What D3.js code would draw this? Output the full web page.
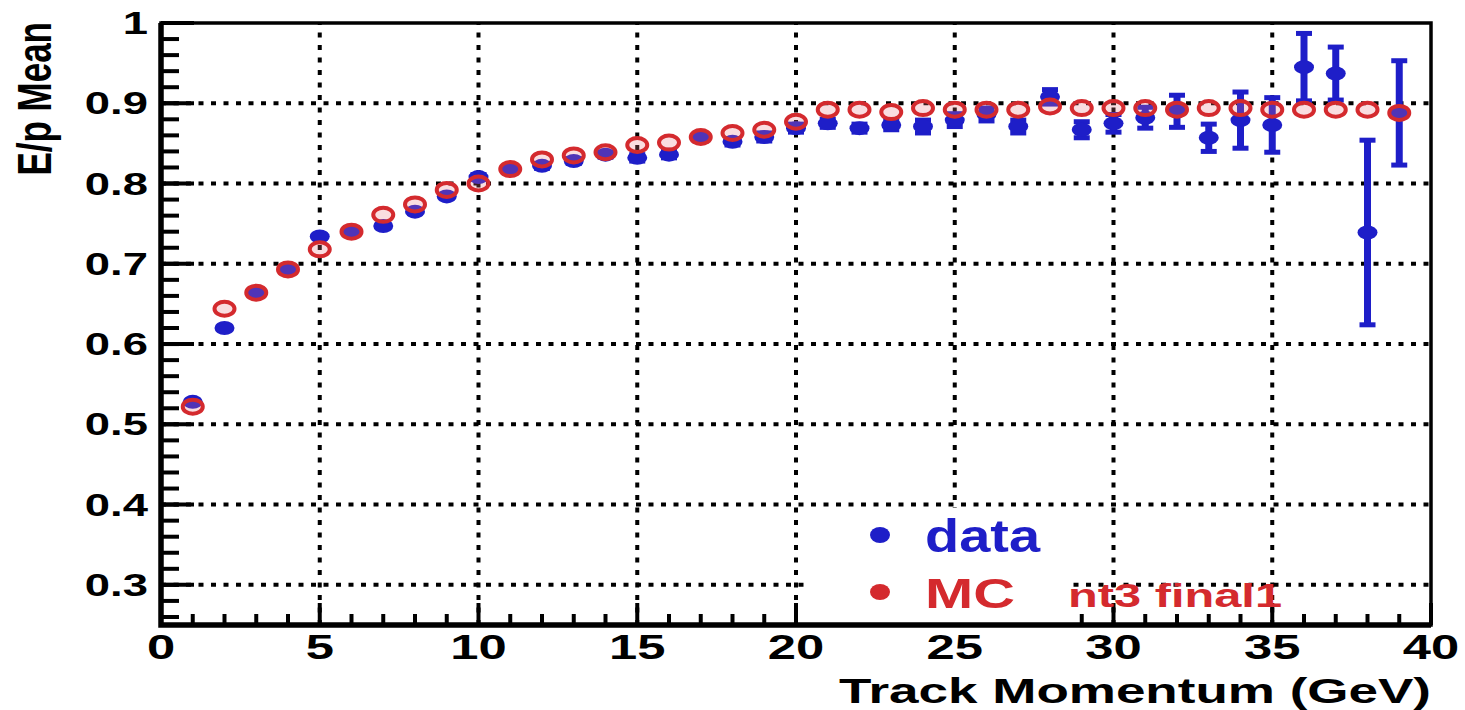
<!DOCTYPE html>
<html>
<head>
<meta charset="utf-8">
<script src="https://cdn.jsdelivr.net/npm/d3@7"></script>
<style>
  body { margin: 0; background: #fff; }
  text { font-family: "Liberation Sans", Arial, sans-serif; font-weight: bold; }
</style>
</head>
<body>
<script>
// E/p mean vs track momentum, data vs MC

var momentum = d3.range(1, 40);
var dataMean = [0.528, 0.620, 0.664, 0.693, 0.734, 0.740, 0.747, 0.765, 0.784, 0.808,
                0.818, 0.822, 0.828, 0.836, 0.832, 0.836, 0.857, 0.852, 0.858, 0.869,
                0.875, 0.869, 0.873, 0.871, 0.879, 0.886, 0.871, 0.908, 0.867, 0.875,
                0.882, 0.890, 0.857, 0.879, 0.873, 0.945, 0.937, 0.739, 0.888];
var dataErr = [0.002, 0.002, 0.002, 0.002, 0.002, 0.002, 0.002, 0.002, 0.002, 0.003,
               0.003, 0.003, 0.003, 0.003, 0.004, 0.004, 0.004, 0.004, 0.005, 0.005,
               0.005, 0.005, 0.006, 0.008, 0.008, 0.008, 0.008, 0.009, 0.010, 0.011,
               0.013, 0.020, 0.017, 0.035, 0.034, 0.042, 0.033, 0.115, 0.065];
var mcMean = [0.522, 0.644, 0.664, 0.693, 0.718, 0.740, 0.761, 0.774, 0.792, 0.800,
              0.818, 0.830, 0.835, 0.839, 0.848, 0.851, 0.858, 0.863, 0.867, 0.877,
              0.892, 0.892, 0.889, 0.894, 0.892, 0.892, 0.892, 0.896, 0.894, 0.894,
              0.894, 0.892, 0.894, 0.894, 0.892, 0.892, 0.892, 0.892, 0.888];

var xTicks = [0, 5, 10, 15, 20, 25, 30, 35, 40];
var yTicks = [0.3, 0.4, 0.5, 0.6, 0.7, 0.8, 0.9, 1];
var legendNames = ["data", "MC"];

var blue = "#1e1ec8", red = "#d42a2e";
var width = 1465, height = 710;
var pL = 161, pR = 1431, pT = 23, pB = 625;

var x = d3.scaleLinear().domain([0, 40]).range([pL, pR]);
var y = d3.scaleLinear().domain([0.25, 1]).range([pB, pT]);

var svg = d3.select("body").append("svg")
    .attr("width", width)
    .attr("height", height);

svg.append("rect").attr("width", width).attr("height", height).attr("fill", "#fff");

// dotted grid
var grid = svg.append("g").attr("stroke", "#000").attr("stroke-width", 4).attr("stroke-dasharray", "5,7.5");
grid.selectAll(".gx").data(xTicks.slice(1, -1)).enter().append("line")
    .attr("x1", function(d) { return x(d); }).attr("x2", function(d) { return x(d); })
    .attr("y1", pB).attr("y2", pT);
grid.selectAll(".gy").data(yTicks.slice(0, -1)).enter().append("line")
    .attr("x1", pL).attr("x2", pR)
    .attr("y1", function(d) { return y(d); }).attr("y2", function(d) { return y(d); });

// ticks
var ticks = svg.append("g").attr("stroke", "#000");
ticks.selectAll(".mx").data(d3.range(0, 41)).enter().append("line")
    .attr("x1", function(d) { return x(d); }).attr("x2", function(d) { return x(d); })
    .attr("y1", pB).attr("y2", function(d) { return d % 5 == 0 ? pB - 22 : pB - 11; })
    .attr("stroke-width", 4);
ticks.selectAll(".my").data(d3.range(0, 38)).enter().append("line")
    .attr("y1", function(d) { return y(0.25 + 0.01 + d * 0.02); })
    .attr("y2", function(d) { return y(0.25 + 0.01 + d * 0.02); })
    .attr("x1", pL).attr("x2", pL + 18)
    .attr("stroke-width", 4);
ticks.selectAll(".My").data(yTicks).enter().append("line")
    .attr("y1", function(d) { return y(d); }).attr("y2", function(d) { return y(d); })
    .attr("x1", pL).attr("x2", pL + 33)
    .attr("stroke-width", 4);

// legend box hides grid and ticks under it
svg.append("rect").attr("x", 806).attr("y", 508).attr("width", 260).attr("height", 115).attr("fill", "#fff");

// frame
svg.append("rect").attr("x", pL).attr("y", pT).attr("width", pR - pL).attr("height", pB - pT)
    .attr("fill", "none").attr("stroke", "#000").attr("stroke-width", 3.5);
svg.append("path").attr("d", "M" + pL + "," + pT + "V" + pB + "H" + pR)
    .attr("fill", "none").attr("stroke", "#000").attr("stroke-width", 5.5);

// tick labels
svg.selectAll(".xl").data(xTicks).enter().append("text")
    .attr("transform", function(d) { return "translate(" + x(d) + ",659) scale(1.45,1)"; })
    .attr("text-anchor", "middle").attr("font-size", 35)
    .text(function(d) { return d; });
svg.selectAll(".yl").data(yTicks).enter().append("text")
    .attr("transform", function(d) { return "translate(148," + (y(d) + 11) + ") scale(1.42,1)"; })
    .attr("text-anchor", "end").attr("font-size", 32)
    .text(function(d) { return d; });

// axis titles
svg.append("text")
    .attr("x", 1431).attr("y", 703).attr("text-anchor", "end").attr("font-size", 35)
    .attr("textLength", 592).attr("lengthAdjust", "spacingAndGlyphs")
    .text("Track Momentum (GeV)");
svg.append("text")
    .attr("transform", "translate(51,22) scale(1.4,1) rotate(-90)")
    .attr("text-anchor", "end").attr("font-size", 35)
    .text("E/p Mean");

// data error bars
var err = svg.append("g").attr("stroke", blue);
err.selectAll(".eb").data(momentum).enter().append("line")
    .attr("x1", function(d) { return x(d); }).attr("x2", function(d) { return x(d); })
    .attr("y1", function(d, i) { return y(dataMean[i] - dataErr[i]); })
    .attr("y2", function(d, i) { return y(dataMean[i] + dataErr[i]); })
    .attr("stroke-width", 7);
err.selectAll(".c1").data(momentum).enter().append("line")
    .attr("x1", function(d) { return x(d) - 8; }).attr("x2", function(d) { return x(d) + 8; })
    .attr("y1", function(d, i) { return y(dataMean[i] - dataErr[i]); })
    .attr("y2", function(d, i) { return y(dataMean[i] - dataErr[i]); })
    .attr("stroke-width", 5);
err.selectAll(".c2").data(momentum).enter().append("line")
    .attr("x1", function(d) { return x(d) - 8; }).attr("x2", function(d) { return x(d) + 8; })
    .attr("y1", function(d, i) { return y(dataMean[i] + dataErr[i]); })
    .attr("y2", function(d, i) { return y(dataMean[i] + dataErr[i]); })
    .attr("stroke-width", 5);

svg.append("g").selectAll("ellipse").data(momentum).enter().append("ellipse")
    .attr("cx", function(d) { return x(d); })
    .attr("cy", function(d, i) { return y(dataMean[i]); })
    .attr("rx", 10).attr("ry", 7)
    .attr("fill", blue);

// MC open markers
svg.append("g").selectAll("ellipse").data(momentum).enter().append("ellipse")
    .attr("cx", function(d) { return x(d); })
    .attr("cy", function(d, i) { return y(mcMean[i]); })
    .attr("rx", 10).attr("ry", 7)
    .attr("fill", "rgba(230,120,130,0.25)")
    .attr("stroke", red).attr("stroke-width", 4);

// legend
var legendColors = [blue, red];
var legend = svg.append("g");
legend.selectAll("ellipse").data(legendNames).enter().append("ellipse")
    .attr("cx", 880).attr("cy", function(d, i) { return 535 + i * 57; })
    .attr("rx", 10).attr("ry", 8)
    .attr("fill", function(d, i) { return legendColors[i]; });
legend.selectAll("text").data(legendNames).enter().append("text")
    .attr("x", 925).attr("y", function(d, i) { return 552 + i * 56; })
    .attr("font-size", function(d, i) { return i == 0 ? 46 : 43; })
    .attr("textLength", function(d, i) { return i == 0 ? 115 : 90; })
    .attr("lengthAdjust", "spacingAndGlyphs")
    .attr("fill", function(d, i) { return legendColors[i]; })
    .text(function(d) { return d; });
svg.append("text")
    .attr("x", 1068).attr("y", 607).attr("font-size", 33)
    .attr("textLength", 214).attr("lengthAdjust", "spacingAndGlyphs")
    .attr("fill", red)
    .text("nt3 final1");
</script>
</body>
</html>
